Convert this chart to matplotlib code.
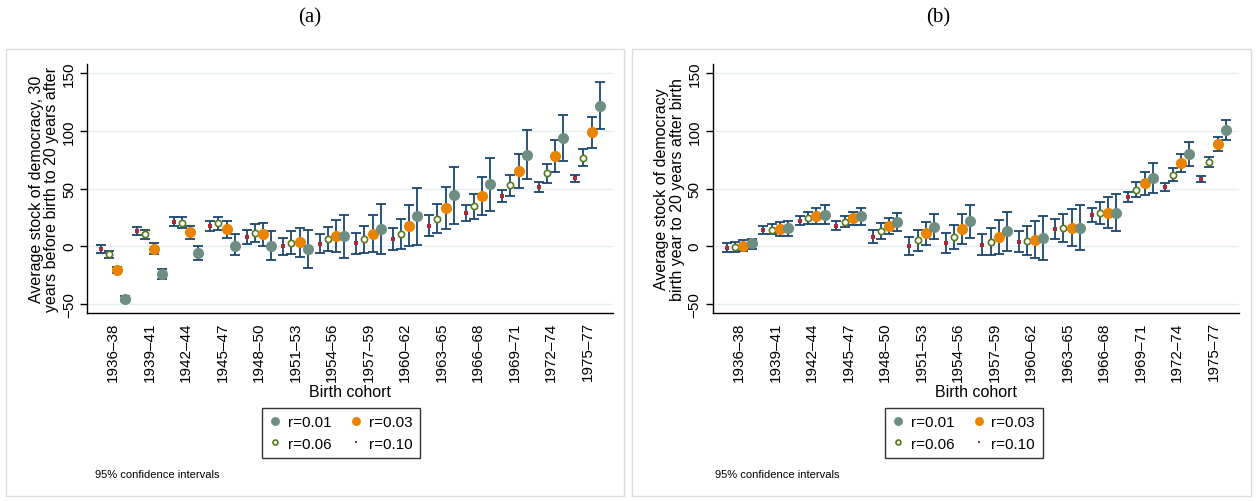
import numpy as np
import matplotlib
matplotlib.use("Agg")
import matplotlib.pyplot as plt
from matplotlib.lines import Line2D
from matplotlib.patches import Rectangle

plt.rcParams['font.family'] = ['Liberation Sans', 'DejaVu Sans']

cohorts = ['1936\u201338', '1939\u201341', '1942\u201344', '1945\u201347', '1948\u201350',
           '1951\u201353', '1954\u201356', '1957\u201359', '1960\u201362', '1963\u201365',
           '1966\u201368', '1969\u201371', '1972\u201374', '1975\u201377']
series = ['r=0.01', 'r=0.03', 'r=0.06', 'r=0.10']

# panel (a): 30 years before birth to 20 years after
a_r01 = [-45.7, -24.6, -6.1, 0.5, 0.3, -2.3, 8.6, 15.0, 26.0, 44.2, 53.7, 79.4, 93.8, 121.8]
a_r01_lo = [-48.0, -28.9, -12.4, -8.1, -12.4, -18.8, -10.1, -6.7, 1.4, 19.6, 30.9, 58.6, 73.7, 101.6]
a_r01_hi = [-43.5, -20.2, 0.0, 10.1, 13.0, 14.4, 27.4, 36.7, 50.5, 69.0, 76.3, 100.5, 114.0, 142.0]

a_r03 = [-20.5, -2.3, 12.1, 15.0, 10.1, 3.5, 8.9, 10.7, 17.9, 33.2, 43.6, 65.3, 78.0, 98.8]
a_r03_lo = [-23.0, -6.7, 6.3, 7.2, 0.0, -9.6, -5.0, -5.3, -0.3, 15.0, 27.1, 50.5, 64.1, 85.4]
a_r03_hi = [-18.0, 2.6, 17.9, 22.2, 20.2, 16.1, 23.1, 27.1, 35.8, 51.6, 59.8, 80.2, 92.1, 112.0]

a_r06 = [-6.7, 10.1, 20.5, 19.9, 11.8, 3.1, 5.8, 5.8, 10.7, 23.9, 34.9, 52.9, 63.5, 76.5]
a_r06_lo = [-10.1, 5.8, 15.9, 14.1, 4.0, -6.7, -4.6, -6.1, -2.3, 11.2, 23.9, 43.8, 55.1, 69.6]
a_r06_hi = [-3.8, 13.8, 25.4, 25.1, 19.6, 12.7, 16.4, 17.9, 23.7, 36.7, 45.6, 61.8, 71.6, 84.3]

a_r10 = [-2.3, 13.5, 21.3, 17.9, 8.3, -0.3, 2.0, 2.6, 6.3, 17.9, 29.1, 43.8, 51.6, 59.2]
a_r10_lo = [-5.8, 10.0, 17.9, 13.5, 2.0, -8.1, -6.1, -6.7, -3.2, 8.9, 22.2, 38.4, 47.3, 55.5]
a_r10_hi = [1.1, 17.0, 25.1, 22.2, 14.4, 7.2, 10.7, 11.2, 15.9, 26.9, 36.0, 48.8, 55.7, 62.0]

# panel (b): birth year to 20 years after birth
b_r01 = [2.6, 15.6, 27.4, 26.0, 20.8, 17.0, 21.8, 13.0, 6.9, 16.1, 29.1, 59.2, 80.0, 101.0]
b_r01_lo = [-2.3, 8.7, 19.3, 18.5, 13.0, 6.1, 7.2, -4.3, -12.4, -3.2, 12.7, 45.9, 69.8, 92.4]
b_r01_hi = [6.3, 22.2, 36.0, 33.2, 28.6, 27.7, 36.0, 30.0, 26.0, 36.0, 45.3, 71.9, 90.6, 109.4]

b_r03 = [0.5, 15.0, 26.3, 24.3, 17.3, 11.5, 14.7, 8.3, 5.5, 16.1, 29.1, 54.9, 72.2, 88.6]
b_r03_lo = [-3.8, 9.2, 19.3, 18.5, 10.1, 1.4, 2.0, -6.7, -10.4, 0.0, 15.9, 44.7, 64.1, 82.3]
b_r03_hi = [4.9, 20.8, 33.2, 30.0, 24.3, 21.3, 27.7, 23.1, 21.7, 32.3, 42.5, 64.6, 80.0, 95.0]

b_r06 = [-0.9, 14.4, 24.3, 21.3, 13.3, 5.5, 7.8, 4.0, 4.6, 15.9, 28.9, 49.0, 62.0, 73.3]
b_r06_lo = [-5.3, 10.1, 19.3, 16.7, 6.3, -3.8, -2.9, -8.1, -8.1, 3.5, 19.3, 42.5, 56.3, 69.0]
b_r06_hi = [3.5, 19.3, 29.5, 26.0, 19.9, 14.4, 18.7, 15.9, 17.3, 28.0, 38.1, 55.5, 67.9, 77.6]

b_r10 = [-1.5, 14.1, 22.2, 17.9, 8.3, 0.0, 2.6, 1.4, 4.0, 14.7, 27.4, 43.0, 51.6, 58.3]
b_r10_lo = [-5.3, 10.1, 18.5, 14.1, 2.6, -8.1, -5.8, -8.1, -5.3, 5.8, 20.8, 38.7, 48.2, 55.5]
b_r10_hi = [2.6, 17.9, 26.0, 21.7, 14.1, 7.8, 11.2, 10.7, 13.5, 23.7, 33.4, 46.8, 54.9, 60.7]

# marker styles (r=0.10 sits left, r=0.01 right in each group)
ci_col = '#1a476f'
styles = {
    'r=0.01': dict(marker='o', ms=8, mfc='#6e8e84', mec='#6e8e84', mew=0, off=0.337),
    'r=0.03': dict(marker='o', ms=8, mfc='#ea8300', mec='#ea8300', mew=0, off=0.112),
    'r=0.06': dict(marker='o', ms=4.5, mfc='white', mec='#55791c', mew=1.2, off=-0.112),
    'r=0.10': dict(marker='s', ms=2.2, mfc='#b02838', mec='#b02838', mew=0, off=-0.337),
}

fig = plt.figure(figsize=(12.58, 5.02), dpi=100)

# panel frames
fig.patches.append(Rectangle((6/1258, 1-497/502), 618/1258, 447/502, transform=fig.transFigure,
                             fill=False, ec='#dcdcdc', lw=1))
fig.patches.append(Rectangle((632/1258, 1-497/502), 619/1258, 447/502, transform=fig.transFigure,
                             fill=False, ec='#dcdcdc', lw=1))

panels = [
    dict(left=87, right=613, title='(a)', tx=310, xl=-0.712,
         ylabel='Average stock of democracy, 30\nyears before birth to 20 years after',
         data={'r=0.01': (a_r01, a_r01_lo, a_r01_hi), 'r=0.03': (a_r03, a_r03_lo, a_r03_hi),
               'r=0.06': (a_r06, a_r06_lo, a_r06_hi), 'r=0.10': (a_r10, a_r10_lo, a_r10_hi)},
         leg_x=341, note_x=95),
    dict(left=712.5, right=1239, title='(b)', tx=938, xl=-0.735,
         ylabel='Average stock of democracy\nbirth year to 20 years after birth',
         data={'r=0.01': (b_r01, b_r01_lo, b_r01_hi), 'r=0.03': (b_r03, b_r03_lo, b_r03_hi),
               'r=0.06': (b_r06, b_r06_lo, b_r06_hi), 'r=0.10': (b_r10, b_r10_lo, b_r10_hi)},
         leg_x=964, note_x=715),
]

x = np.arange(len(cohorts))

for p in panels:
    ax = fig.add_axes([p['left']/1258, 1-314/502, (p['right']-p['left'])/1258, (314-65)/502])
    for s in ['r=0.10', 'r=0.06', 'r=0.03', 'r=0.01']:
        est, lo, hi = [np.array(v) for v in p['data'][s]]
        st = styles[s]
        xs = x + st['off']
        ax.errorbar(xs, est, yerr=[est-lo, hi-est], fmt='none', ecolor=ci_col,
                    elinewidth=1.3, capsize=3.3, capthick=1.3, zorder=2)
    for s in ['r=0.10', 'r=0.06', 'r=0.03', 'r=0.01']:
        est = p['data'][s][0]
        st = styles[s]
        ax.plot(x + st['off'], est, ls='none', marker=st['marker'], ms=st['ms'],
                mfc=st['mfc'], mec=st['mec'], mew=st['mew'], zorder=3)

    ax.set_xlim(p['xl'], 13.70)
    ax.set_ylim(-58, 158)
    ax.set_yticks([-50, 0, 50, 100, 150])
    ax.set_yticklabels(['\u221250', '0', '50', '100', '150'], rotation=90, va='center', fontsize=11)
    ax.set_xticks(x)
    ax.set_xticklabels(cohorts, rotation=90, fontsize=11)
    ax.tick_params(axis='x', length=0, pad=6)
    ax.tick_params(axis='y', length=5, width=1, pad=3)
    ax.grid(axis='y', color='#e6eff0', lw=1)
    ax.set_axisbelow(True)
    for side in ['top', 'right']:
        ax.spines[side].set_visible(False)
    ax.spines['left'].set_linewidth(1)
    ax.spines['bottom'].set_linewidth(1)
    ax.set_ylabel(p['ylabel'], fontsize=11.5, labelpad=2, linespacing=1.05)
    ax.set_xlabel('Birth cohort', fontsize=11.5, labelpad=2)

    fig.text(p['tx']/1258, 1-18/502, p['title'], fontsize=15, ha='center', va='center',
             family='Liberation Serif')

    # legend filled column-wise: r=0.01, r=0.06 | r=0.03, r=0.10
    order = ['r=0.01', 'r=0.06', 'r=0.03', 'r=0.10']
    handles = []
    for s in order:
        st = styles[s]
        handles.append(Line2D([], [], ls='none', marker=st['marker'], ms=st['ms']*0.8,
                              mfc=st['mfc'], mec=st['mec'], mew=st['mew']))
    fig.legend(handles, order, ncol=2, loc='center', fontsize=11,
               bbox_to_anchor=(p['leg_x']/1258, 1-434/502), frameon=True, fancybox=False,
               edgecolor='black', handlelength=0.7, handletextpad=0.5, columnspacing=1.2,
               borderpad=0.5, labelspacing=0.5).get_frame().set_linewidth(1)

    fig.text(p['note_x']/1258, 1-475/502, '95% confidence intervals', fontsize=8,
             ha='left', va='center')

fig.savefig('out.png', dpi=100)
